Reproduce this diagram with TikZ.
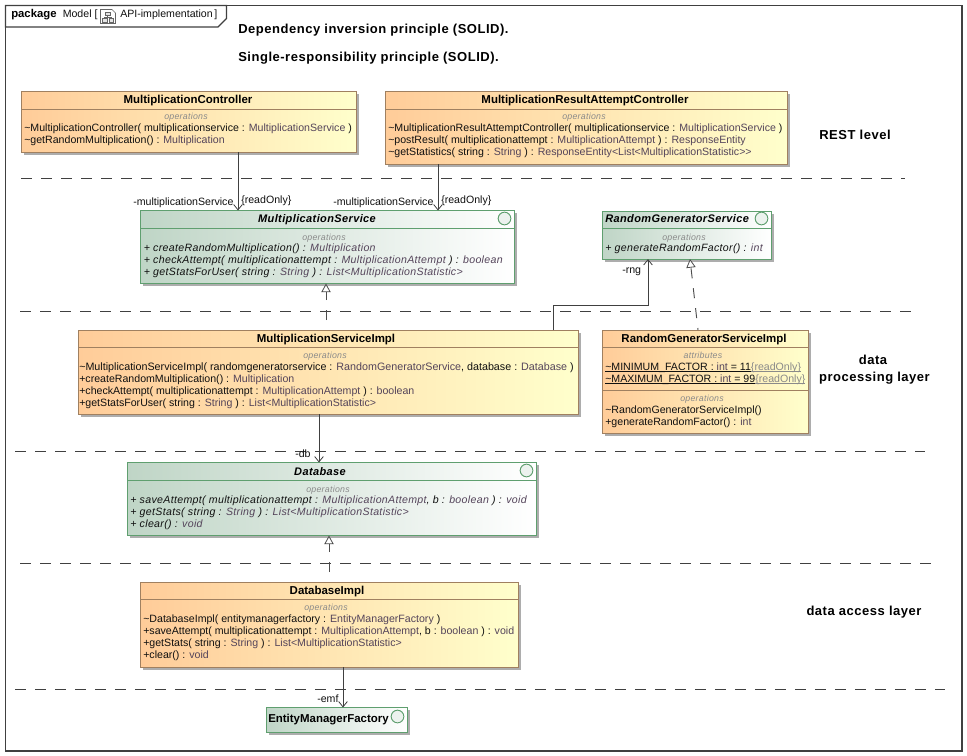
\documentclass[tikz,border=0pt]{standalone}
\usepackage{fontspec}
\setmainfont{Liberation Sans}
\usetikzlibrary{arrows.meta,shadows}
\definecolor{ty}{HTML}{54445A}
\definecolor{opc}{HTML}{8A8A8A}
\definecolor{orgL}{HTML}{FFCC99}
\definecolor{orgR}{HTML}{FFFFCC}
\definecolor{orgB}{HTML}{A08060}
\definecolor{grnL}{HTML}{BFD5C6}
\definecolor{grnR}{HTML}{FFFFFF}
\definecolor{grnB}{HTML}{5F9F6F}
\definecolor{lbl}{HTML}{101010}
\definecolor{frm}{HTML}{404040}
\newcommand{\ty}[1]{\textcolor{ty}{#1}}
\newcommand{\ro}{\textcolor{opc}{\ulx{\{readOnly\}}}}
\newsavebox{\ulbox}
\newcommand{\ulx}[1]{\sbox{\ulbox}{#1}\rlap{\rule[-1.5pt]{\wd\ulbox}{0.5pt}}\usebox{\ulbox}}
\tikzset{
  px/.style={x=0.75pt,y=-0.75pt},
  boxbase/.style={rectangle,inner sep=0pt,outer sep=0pt,line width=0.75pt,anchor=north west,
    drop shadow={shadow xshift=2pt,shadow yshift=-2pt,fill=black!32,opacity=1}},
  orangebox/.style={boxbase,draw=orgB,left color=orgL,right color=orgR},
  greenbox/.style={boxbase,draw=grnB,left color=grnL,right color=grnR},
  divo/.style={orgB,line width=0.7pt},
  divg/.style={grnB,line width=0.7pt},
  title/.style={font=\fontsize{8.6pt}{10pt}\bfseries,anchor=base,inner sep=0pt,text=black},
  ititle/.style={font=\fontsize{8.25pt}{10pt}\bfseries\itshape\addfontfeatures{LetterSpace=3.5},anchor=base,inner sep=0pt,text=black},
  opslabel/.style={font=\fontsize{6.6pt}{8pt}\itshape\addfontfeatures{LetterSpace=3},anchor=base,inner sep=0pt,text=opc},
  mem/.style={font=\fontsize{7.95pt}{10pt}\selectfont,anchor=base west,inner sep=0pt,text=lbl},
  imem/.style={font=\fontsize{7.95pt}{10pt}\itshape\addfontfeatures{LetterSpace=3},anchor=base west,inner sep=0pt,text=lbl},
  endlabel/.style={font=\fontsize{7.95pt}{10pt}\selectfont,anchor=base west,inner sep=0pt,text=lbl},
  heading/.style={font=\fontsize{9.75pt}{11pt}\bfseries\addfontfeatures{LetterSpace=4},anchor=base west,inner sep=0pt,text=black},
  layerlabel/.style={font=\fontsize{9.75pt}{11pt}\bfseries\addfontfeatures{LetterSpace=4},anchor=base,inner sep=0pt,text=black},
  sep/.style={draw=black!75,line width=0.7pt,dash pattern=on 8pt off 7pt},
  assoc/.style={draw=black!75,line width=0.75pt,-{Straight Barb[length=4pt,width=6.5pt,line width=0.6pt]}},
  realize/.style={draw=black!70,line width=0.7pt,dash pattern=on 7.5pt off 7.5pt,dash phase=7.5pt,-{Triangle[open,fill=white,length=6.5pt,width=7pt,line width=0.6pt]}},
  lollipop/.style={circle,draw=grnB,fill=white!70!grnL,line width=0.7pt,minimum size=9.5pt,inner sep=0pt},
}
\newcommand{\umlbox}[6]{% style name x1 y1 x2 y2
  \pgfmathsetmacro{\bw}{(#5-#3)*0.75}\pgfmathsetmacro{\bh}{(#6-#4)*0.75}
  \node[#1,minimum width=\bw pt,minimum height=\bh pt] (#2) at (#3,#4) {};}
\begin{document}
\begin{tikzpicture}[px]
\useasboundingbox (0,0) rectangle (967,756);
\fill[white] (0,0) rectangle (967,756);
% frame
\draw[frm,line width=0.8pt] (5.5,5.5) rectangle (962,751);
\draw[frm,line width=0.8pt,fill=white] (5.5,5.5) -- (226.5,5.5) -- (226.5,18.5) -- (218,27) -- (5.5,27) -- cycle;
\node[font=\fontsize{8.5pt}{11pt}\bfseries,anchor=base west,inner sep=0pt] (pkg) at (11,18) {package};
\node[mem] (pkgname) at (62.5,18) {Model [};
\node[mem] (pkgdiag) at (120,18) {API-implementation};
\node[mem] (pkgend) at (214,18) {]};
% icon
\draw[black!60,line width=0.5pt] (100.5,9.5) -- (112,9.5) -- (115.5,13) -- (115.5,23.5) -- (100.5,23.5) -- cycle;
\draw[black!60,line width=0.5pt,fill=black!10] (105,12) rectangle (110,15.5);
\draw[black!60,line width=0.5pt,fill=black!10] (102.5,18.5) rectangle (107,22);
\draw[black!60,line width=0.5pt,fill=black!10] (109,18.5) rectangle (113.5,22);
\draw[black!60,line width=0.5pt] (107.5,15.5) -- (107.5,17) (104.7,18.5) -- (104.7,17) -- (111.2,17) -- (111.2,18.5);
% headings
\node[heading] (h1) at (238,34) {Dependency inversion principle (SOLID).};
\node[heading] (h2) at (238,62) {Single-responsibility principle (SOLID).};
\node[layerlabel] (l1) at (855,140) {REST level};
\node[layerlabel] (l2a) at (873,364) {data};
\node[layerlabel] (l2b) at (874.5,381) {processing layer};
\node[layerlabel] (l3) at (864,615) {data access layer};
% separators
\coordinate (s1a) at (21,178); \coordinate (s1b) at (905,178);
\coordinate (s2a) at (20,311); \coordinate (s2b) at (912,311);
\coordinate (s3a) at (15,451); \coordinate (s3b) at (925,451);
\coordinate (s4a) at (20,563); \coordinate (s4b) at (932,563);
\coordinate (s5a) at (15,689); \coordinate (s5b) at (945,689);
\draw[sep] (s1a) -- (s1b);
\draw[sep] (s2a) -- (s2b);
\draw[sep] (s3a) -- (s3b);
\draw[sep] (s4a) -- (s4b);
\draw[sep] (s5a) -- (s5b);
% MultiplicationController
\umlbox{orangebox}{mc}{21.5}{91.5}{356.5}{152.5}
\draw[divo] (21.5,109.5) -- (356.5,109.5);
\node[title] (mct) at (188,104) {MultiplicationController};
\node[opslabel] (mco) at (186,120) {operations};
\node[mem] (mc1) at (24,132) {\textasciitilde MultiplicationController( multiplicationservice : \ty{MultiplicationService} )};
\node[mem] (mc2) at (24,144) {\textasciitilde getRandomMultiplication() : \ty{Multiplication}};
% MultiplicationResultAttemptController
\umlbox{orangebox}{rc}{385.5}{91.5}{787.5}{164.5}
\draw[divo] (385.5,109.5) -- (787.5,109.5);
\node[title] (rct) at (585,104) {MultiplicationResultAttemptController};
\node[opslabel] (rco) at (584,120) {operations};
\node[mem] (rc1) at (388,132) {\textasciitilde MultiplicationResultAttemptController( multiplicationservice : \ty{MultiplicationService} )};
\node[mem] (rc2) at (388,144) {\textasciitilde postResult( multiplicationattempt : \ty{MultiplicationAttempt} ) : \ty{ResponseEntity}};
\node[mem] (rc3) at (388,156) {\textasciitilde getStatistics( string : \ty{String} ) : \ty{ResponseEntity<List<MultiplicationStatistic>{}>}};
% MultiplicationService
\umlbox{greenbox}{ms}{140.5}{210.5}{514.5}{283.5}
\draw[divg] (140.5,228.5) -- (514.5,228.5);
\node[ititle] (mst) at (317,223) {MultiplicationService};
\node[lollipop] (msc) at (504.5,218.5) {};
\node[opslabel] (mso) at (324,240) {operations};
\node[imem] (ms1) at (143.5,251) {+ createRandomMultiplication() : \ty{Multiplication}};
\node[imem] (ms2) at (143.5,263) {+ checkAttempt( multiplicationattempt : \ty{MultiplicationAttempt} ) : \ty{boolean}};
\node[imem] (ms3) at (143.5,275) {+ getStatsForUser( string : \ty{String} ) : \ty{List<MultiplicationStatistic>}};
% RandomGeneratorService
\umlbox{greenbox}{rg}{602.5}{211}{771}{259}
\draw[divg] (602.5,228.5) -- (771,228.5);
\node[ititle,anchor=base west] (rgt) at (605,223) {RandomGeneratorService};
\node[lollipop] (rgc) at (761.5,218.5) {};
\node[opslabel] (rgo) at (684,240) {operations};
\node[imem] (rg1) at (605,251) {+ generateRandomFactor() : \ty{int}};
% MultiplicationServiceImpl
\umlbox{orangebox}{mi}{78}{330}{578}{414}
\draw[divo] (78,347.5) -- (578,347.5);
\node[title] (mit) at (326,342) {MultiplicationServiceImpl};
\node[opslabel] (mio) at (325,358) {operations};
\node[mem,font=\fontsize{8.05pt}{10pt}\selectfont] (mi1) at (79,370) {\textasciitilde MultiplicationServiceImpl( randomgeneratorservice : \ty{RandomGeneratorService}, database : \ty{Database} )};
\node[mem] (mi2) at (79,382) {+createRandomMultiplication() : \ty{Multiplication}};
\node[mem] (mi3) at (79,394) {+checkAttempt( multiplicationattempt : \ty{MultiplicationAttempt} ) : \ty{boolean}};
\node[mem] (mi4) at (79,406) {+getStatsForUser( string : \ty{String} ) : \ty{List<MultiplicationStatistic>}};
% RandomGeneratorServiceImpl
\umlbox{orangebox}{ri}{602.5}{330}{808}{433}
\draw[divo] (602.5,347.5) -- (808,347.5);
\draw[divo] (602.5,390.5) -- (808,390.5);
\node[title] (rit) at (704,342) {RandomGeneratorServiceImpl};
\node[opslabel] (ria) at (703,358) {attributes};
\node[mem] (ri1) at (605,370) {\ulx{\textasciitilde MINIMUM\_FACTOR : \ty{int} = 11}\ro};
\node[mem] (ri2) at (605,382) {\ulx{\textasciitilde MAXIMUM\_FACTOR : \ty{int} = 99}\ro};
\node[opslabel] (rio) at (702,401) {operations};
\node[mem] (ri3) at (605,413) {\textasciitilde RandomGeneratorServiceImpl()};
\node[mem] (ri4) at (605,425) {+generateRandomFactor() : \ty{int}};
% Database
\umlbox{greenbox}{db}{127}{462.5}{536}{535.5}
\draw[divg] (127,480.5) -- (536,480.5);
\node[ititle] (dbt) at (320,475) {Database};
\node[lollipop] (dbc) at (526.5,470.5) {};
\node[opslabel] (dbo) at (328,492) {operations};
\node[imem] (db1) at (130,503) {+ saveAttempt( multiplicationattempt : \ty{MultiplicationAttempt}, b : \ty{boolean} ) : \ty{void}};
\node[imem] (db2) at (130,515) {+ getStats( string : \ty{String} ) : \ty{List<MultiplicationStatistic>}};
\node[imem] (db3) at (130,527) {+ clear() : \ty{void}};
% DatabaseImpl
\umlbox{orangebox}{di}{140.5}{582}{518}{667}
\draw[divo] (140.5,599.5) -- (518,599.5);
\node[title] (dit) at (327,594) {DatabaseImpl};
\node[opslabel] (dio) at (326,610) {operations};
\node[mem] (di1) at (143,622) {\textasciitilde DatabaseImpl( entitymanagerfactory : \ty{EntityManagerFactory} )};
\node[mem] (di2) at (143,634) {+saveAttempt( multiplicationattempt : \ty{MultiplicationAttempt}, b : \ty{boolean} ) : \ty{void}};
\node[mem] (di3) at (143,646) {+getStats( string : \ty{String} ) : \ty{List<MultiplicationStatistic>}};
\node[mem] (di4) at (143,658) {+clear() : \ty{void}};
% EntityManagerFactory
\umlbox{greenbox}{ef}{266}{707.5}{407}{732}
\node[title,anchor=base west] (eft) at (268,722) {EntityManagerFactory};
\node[lollipop] (efc) at (397.5,716.5) {};
% connector x-positions
\coordinate (xa) at (238,0); \coordinate (xb) at (438,0); \coordinate (xc) at (326,0);
\coordinate (xd) at (553,0); \coordinate (xe) at (648,305); \coordinate (xf) at (319,0);
\coordinate (xg) at (329,0); \coordinate (xh) at (343,0);
\coordinate (xi) at (698,0); \coordinate (xj) at (690,0);
% connectors
\draw[assoc] (mc.south -| xa) -- (ms.north -| xa);
\draw[assoc] (rc.south -| xb) -- (ms.north -| xb);
\draw[realize] (mi.north -| xc) -- (ms.south -| xc);
\draw[assoc] (mi.north -| xd) |- (xe) -- (rg.south -| xe);
\draw[realize,dash phase=6pt] (ri.north -| xi) -- (rg.south -| xj);
\draw[assoc] (mi.south -| xf) -- (db.north -| xf);
\draw[realize] (di.north -| xg) -- (db.south -| xg);
\draw[assoc] (di.south -| xh) -- (ef.north -| xh);
% end labels
\node[endlabel] (e1) at (133,205) {-multiplicationService};
\node[endlabel] (e2) at (241,204) {\{readOnly\}};
\node[endlabel] (e3) at (333,205) {-multiplicationService};
\node[endlabel] (e4) at (441,204) {\{readOnly\}};
\node[endlabel] (e5) at (622,273) {-rng};
\node[endlabel] (e6) at (295,457) {-db};
\node[endlabel] (e7) at (317,702) {-emf};
\end{tikzpicture}
\end{document}
